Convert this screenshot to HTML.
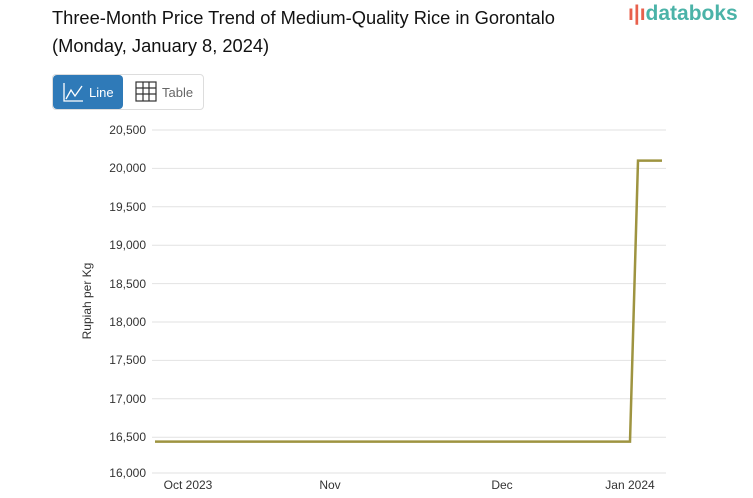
<!DOCTYPE html>
<html><head><meta charset="utf-8"><style>
body{margin:0;width:753px;height:498px;background:#fff;font-family:"Liberation Sans",sans-serif;overflow:hidden;position:relative}
.t{position:absolute;left:52px;top:4px;font-size:18.3px;line-height:28px;color:#111}
.logo{position:absolute;left:628px;top:2px;font-size:21px;color:#4bb3a8;font-weight:bold}
.btns{position:absolute;left:52px;top:74px;width:150px;height:34px;border:1px solid #ddd;border-radius:4px}
.b1{position:absolute;left:0;top:0;width:70px;height:34px;background:#2f7ab8;border-radius:4px;color:#fff;font-size:13px}
.b2{position:absolute;left:82px;top:0;height:34px;color:#666;font-size:13px}
</style></head><body>
<div class="t">Three-Month Price Trend of Medium-Quality Rice in Gorontalo<br>(Monday, January 8, 2024)</div>
<div class="logo"><span style="color:#e8604c">ı|ı</span>databoks</div>
<div class="btns">
<div class="b1"><svg width="70" height="34" style="position:absolute;left:0;top:0"><path d="M11 8V26H30" stroke="#fff" fill="none" stroke-width="1.3"/><path d="M13 24L18 15L22 21L29 11" stroke="#fff" fill="none" stroke-width="1.3"/><text x="36" y="22" fill="#fff" font-size="13" font-family="Liberation Sans">Line</text></svg></div>
<div class="b2"><svg width="70" height="34" style="position:absolute;left:0;top:0"><g stroke="#333" fill="none" stroke-width="1.2"><rect x="1" y="7" width="20" height="19"/><path d="M8 7V26M14 7V26M1 13H21M1 19H21"/></g><text x="27" y="22" fill="#666" font-size="13" font-family="Liberation Sans">Table</text></svg></div>
</div>
<svg width="753" height="498" style="position:absolute;left:0;top:0" font-family="Liberation Sans" font-size="12" fill="#333">
<g stroke="#e2e2e2" stroke-width="1">
<line x1="152" x2="666" y1="130" y2="130"/><line x1="152" x2="666" y1="168.4" y2="168.4"/><line x1="152" x2="666" y1="206.8" y2="206.8"/><line x1="152" x2="666" y1="245.2" y2="245.2"/><line x1="152" x2="666" y1="283.6" y2="283.6"/><line x1="152" x2="666" y1="322" y2="322"/><line x1="152" x2="666" y1="360.4" y2="360.4"/><line x1="152" x2="666" y1="398.8" y2="398.8"/><line x1="152" x2="666" y1="437.2" y2="437.2"/><line x1="152" x2="666" y1="473" y2="473"/>
</g>
<g text-anchor="end">
<text x="146" y="134">20,500</text><text x="146" y="172">20,000</text><text x="146" y="211">19,500</text><text x="146" y="249">19,000</text><text x="146" y="288">18,500</text><text x="146" y="326">18,000</text><text x="146" y="364">17,500</text><text x="146" y="403">17,000</text><text x="146" y="441">16,500</text><text x="146" y="477">16,000</text>
</g>
<text transform="translate(91,301) rotate(-90)" text-anchor="middle">Rupiah per Kg</text>
<g text-anchor="middle"><text x="188" y="489">Oct 2023</text><text x="330" y="489">Nov</text><text x="502" y="489">Dec</text><text x="630" y="489">Jan 2024</text></g>
<polyline points="155,441.6 630,441.6 638,160.6 662,160.6" fill="none" stroke="#9e9440" stroke-width="2.5"/>
</svg>
</body></html>
